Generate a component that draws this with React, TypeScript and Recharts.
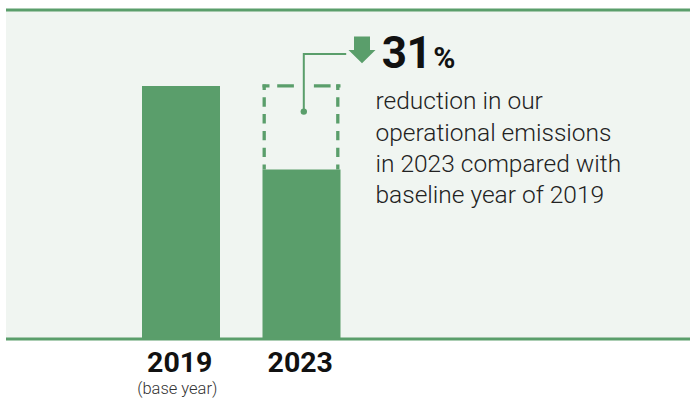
import React from "react";
import { BarChart, Bar, XAxis, YAxis, CartesianGrid, ReferenceLine } from "recharts";

const categories = ["2019", "2023"];
const subLabels = ["(base year)", ""];
const emissions = [100, 67];
const reduction = [0, 33];
const headline = "31";
const headlineUnit = "%";
const noteLines = [
  "reduction in our",
  "operational emissions",
  "in 2023 compared with",
  "baseline year of 2019",
];

const GREEN = "#5a9e6b";
const BG = "#f0f5f1";
const FONT = "Roboto, 'Noto Sans', sans-serif";

const data = categories.map((c, i) => ({
  year: c,
  emissions: emissions[i],
  reduction: reduction[i],
}));

const YearTick = (props: any) => {
  const { x, y, payload } = props;
  const i = categories.indexOf(payload.value);
  return (
    <g>
      <text x={x - 1.5} y={y + 33} textAnchor="middle" fontFamily={FONT} fontWeight={700} fontSize={28.5} fill="#111">
        {payload.value}
      </text>
      {subLabels[i] ? (
        <text x={x - 4} y={y + 55} textAnchor="middle" fontFamily={FONT} fontWeight={300} fontSize={16.5} fill="#333">
          {subLabels[i]}
        </text>
      ) : null}
    </g>
  );
};

const ReductionShape = (props: any) => {
  const { x, y, width, height } = props;
  if (!height || height <= 0) return null;
  const sw = 3.3;
  const x0 = x;
  const x1 = x + width;
  const yTop = y;
  const yBot = y + height;
  const lx = x0 + 1.7;
  const rx = x1 - 2.7;
  const cx = x0 + 41.3;
  const dotY = yTop + 25.7;
  const lineY = yTop - 32;
  const ax = x0 + 99.5; // arrow center
  return (
    <g>
      <line x1={x0} y1={yTop} x2={x1} y2={yTop} stroke={GREEN} strokeWidth={sw} strokeDasharray="7 7.7 16.7 20 16.7 5.7 4.3" />
      <line x1={lx} y1={yTop - 1.3} x2={lx} y2={yBot} stroke={GREEN} strokeWidth={sw} strokeDasharray="9.4 7.4" strokeDashoffset={4.1} />
      <line x1={rx} y1={yTop - 1.3} x2={rx} y2={yBot} stroke={GREEN} strokeWidth={sw} strokeDasharray="9.4 7.4" strokeDashoffset={4.1} />
      <polyline points={`${cx},${dotY} ${cx},${lineY} ${ax - 15.8},${lineY}`} fill="none" stroke={GREEN} strokeWidth={2} />
      <circle cx={cx} cy={dotY} r={3.2} fill={GREEN} />
      <polygon
        points={`${ax - 8},${yTop - 49.3} ${ax + 8},${yTop - 49.3} ${ax + 8},${yTop - 36} ${ax + 13.5},${yTop - 36} ${ax},${yTop - 22.7} ${ax - 13.5},${yTop - 36} ${ax - 8},${yTop - 36}`}
        fill={GREEN}
      />
      <text x={x0 + 119.2} y={yTop - 17.7} fontFamily={FONT} fontWeight={700} fontSize={44} letterSpacing={-0.5} fill="#111">
        {headline}
        <tspan fontSize={30} dx={2}>{headlineUnit}</tspan>
      </text>
      {noteLines.map((t, i) => (
        <text key={i} x={x0 + 113} y={yTop + 23.3 + i * 31.3} fontFamily={FONT} fontWeight={300} fontSize={24.5} fill="#222">
          {t}
        </text>
      ))}
    </g>
  );
};

export default function App() {
  return (
    <div style={{ width: 690, height: 399 }}>
      <style>{`body{margin:0;}`}</style>
      <BarChart width={690} height={399} data={data} margin={{ top: 10, right: 0, bottom: 0, left: 6 }} barSize={78}>
        <CartesianGrid fill={BG} horizontal={false} vertical={false} />
        <XAxis
          dataKey="year"
          height={60}
          padding={{ left: 115, right: 328 }}
          axisLine={{ stroke: GREEN, strokeWidth: 3 }}
          tickLine={false}
          tickSize={0}
          tickMargin={0}
          interval={0}
          tick={<YearTick />}
        />
        <YAxis hide type="number" domain={[0, 130]} allowDataOverflow />
        <ReferenceLine y={130} stroke={GREEN} strokeWidth={3} />
        <Bar dataKey="emissions" stackId="a" fill={GREEN} isAnimationActive={false} />
        <Bar dataKey="reduction" stackId="a" fill="none" shape={ReductionShape} isAnimationActive={false} />
      </BarChart>
    </div>
  );
}
